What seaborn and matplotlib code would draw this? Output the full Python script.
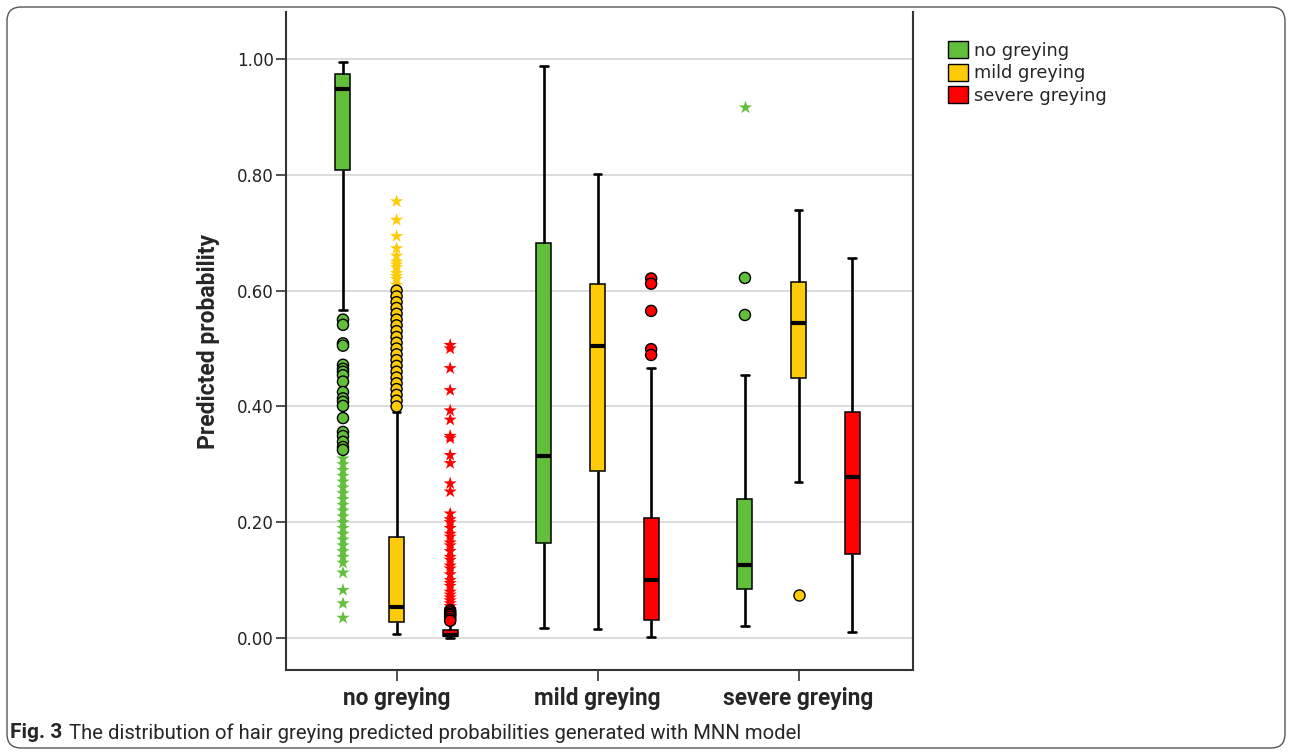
import numpy as np
import pandas as pd
import seaborn as sns
import matplotlib.pyplot as plt
from matplotlib.patches import Patch, FancyBboxPatch

groups = ["no greying", "mild greying", "severe greying"]
levels = ["no greying", "mild greying", "severe greying"]
colors = ["#62bf3b", "#fdcb08", "#ff0000"]

# five numbers per box: low whisker, Q1, median, Q3, high whisker (one per x group)
box_no = [[0.566, 0.809, 0.948, 0.974, 0.994],
          [0.018, 0.164, 0.314, 0.682, 0.987],
          [0.021, 0.085, 0.126, 0.241, 0.454]]
box_mild = [[0.008, 0.028, 0.053, 0.174, 0.391],
            [0.016, 0.288, 0.504, 0.611, 0.801],
            [0.270, 0.450, 0.544, 0.615, 0.740]]
box_severe = [[0.001, 0.003, 0.006, 0.014, 0.026],
              [0.002, 0.031, 0.100, 0.208, 0.467],
              [0.010, 0.146, 0.278, 0.390, 0.656]]

# outliers (circles) and extreme values (stars)
no_no_circles = [0.550, 0.541, 0.509, 0.505, 0.472, 0.465, 0.460, 0.454, 0.443, 0.425,
                 0.414, 0.408, 0.401, 0.380, 0.356, 0.349, 0.339, 0.330, 0.325]
no_no_stars = [0.31, 0.30, 0.29, 0.28, 0.27, 0.26, 0.25, 0.24, 0.23, 0.22, 0.21, 0.20,
               0.19, 0.18, 0.17, 0.16, 0.15, 0.14, 0.13, 0.113, 0.083, 0.060, 0.035]
no_mild_circles = [0.600, 0.590, 0.580, 0.570, 0.560, 0.550, 0.540, 0.530, 0.520, 0.510,
                   0.500, 0.490, 0.480, 0.470, 0.460, 0.450, 0.440, 0.430, 0.420, 0.410, 0.400]
no_mild_stars = [0.754, 0.722, 0.694, 0.673, 0.660, 0.650, 0.645, 0.640, 0.630, 0.625, 0.620, 0.610]
no_severe_circles = [0.048, 0.045, 0.042, 0.040, 0.037, 0.033, 0.030]
no_severe_stars = [0.506, 0.500, 0.466, 0.428, 0.393, 0.377, 0.349, 0.345, 0.316, 0.302,
                   0.267, 0.253, 0.215, 0.205, 0.200, 0.190, 0.180, 0.175, 0.165, 0.160,
                   0.150, 0.140, 0.135, 0.125, 0.120, 0.110, 0.100, 0.095, 0.090, 0.080,
                   0.075, 0.070, 0.065, 0.060, 0.055, 0.050]
mild_severe_circles = [0.621, 0.612, 0.565, 0.499, 0.489]
severe_no_circles = [0.622, 0.558]
severe_no_stars = [0.917]
severe_mild_circles = [0.075]

# build tables
box_rows = []
for gi, g in enumerate(groups):
    for lev, boxes in zip(levels, [box_no, box_mild, box_severe]):
        for v in boxes[gi]:
            box_rows.append((g, lev, v))
box_df = pd.DataFrame(box_rows, columns=["group", "level", "value"])


def to_rows(group, level, vals):
    return [(group, level, v) for v in vals]


circ_df = pd.DataFrame(
    to_rows("no greying", "no greying", no_no_circles)
    + to_rows("no greying", "mild greying", no_mild_circles)
    + to_rows("no greying", "severe greying", no_severe_circles)
    + to_rows("mild greying", "severe greying", mild_severe_circles)
    + to_rows("severe greying", "no greying", severe_no_circles)
    + to_rows("severe greying", "mild greying", severe_mild_circles),
    columns=["group", "level", "value"])
star_df = pd.DataFrame(
    to_rows("no greying", "no greying", no_no_stars)
    + to_rows("no greying", "mild greying", no_mild_stars)
    + to_rows("no greying", "severe greying", no_severe_stars)
    + to_rows("severe greying", "no greying", severe_no_stars),
    columns=["group", "level", "value"])

sns.set_style("white")
plt.rcParams["font.family"] = ["DejaVu Sans"]
narrow = ["Roboto", "DejaVu Sans"]

fig = plt.figure(figsize=(12.92, 7.53), dpi=100)
ax = fig.add_axes([0.2214, 0.1102, 0.4853, 0.8738])

sns.boxplot(data=box_df, x="group", y="value", hue="level", order=groups,
            hue_order=levels, palette=colors, saturation=1, width=0.8, gap=0.72,
            whis=(0, 100), showfliers=False, linecolor="black", linewidth=1.1,
            medianprops=dict(linewidth=3, color="black"),
            whiskerprops=dict(linewidth=1.9), capprops=dict(linewidth=1.9),
            legend=False, ax=ax)

sns.stripplot(data=star_df, x="group", y="value", hue="level", order=groups,
              hue_order=levels, palette=colors, dodge=True, jitter=False,
              marker="*", size=10, linewidth=0, legend=False, ax=ax)
sns.stripplot(data=circ_df, x="group", y="value", hue="level", order=groups,
              hue_order=levels, palette=colors, dodge=True, jitter=False,
              marker="o", size=8, edgecolor="black", linewidth=1, legend=False, ax=ax)

ax.set_xlim(-0.55, 2.57)
ax.set_ylim(-0.055, 1.081)
ax.set_yticks(np.arange(0, 1.01, 0.2))
ax.set_yticklabels([f"{t:.2f}" for t in np.arange(0, 1.01, 0.2)], fontsize=12, color="#222222")
ax.set_xticks(range(3))
ax.set_xticklabels(groups, fontsize=16.3, fontweight="bold", family=narrow)
ax.tick_params(axis="x", length=8, width=1.2, color="#333333", pad=4, bottom=True)
ax.tick_params(axis="y", length=7, width=1.2, color="#333333", pad=2, left=True)
ax.yaxis.grid(True, color="#d9d9d9", linewidth=1.3)
ax.set_axisbelow(True)
ax.set_xlabel("")
ax.set_ylabel("Predicted probability", fontsize=16.5, fontweight="bold", family=narrow)
ax.yaxis.set_label_coords(-0.106, 0.5)
for side in ["left", "bottom", "right"]:
    ax.spines[side].set_color("#333333")
    ax.spines[side].set_linewidth(1.5)
ax.spines["top"].set_visible(False)

handles = [Patch(facecolor=c, edgecolor="black", linewidth=1) for c in colors]
fig.legend(handles, levels, loc="upper left", bbox_to_anchor=(941 / 1292, 1 - 34 / 753),
           frameon=False, fontsize=12.8, handlelength=1.1, handleheight=1.1,
           handletextpad=0.35, labelspacing=0.22, borderaxespad=0)

cap_y = 1 - 733 / 753
fig_lbl = fig.text(10 / 1292, cap_y, "Fig. 3", fontsize=15, fontweight="bold",
                   family=narrow, va="center")
renderer = fig.canvas.get_renderer()
x_after = fig_lbl.get_window_extent(renderer).x1 + 7
fig.text(x_after / 1292, cap_y,
         "The distribution of hair greying predicted probabilities generated with MNN model",
         fontsize=14.6, family=narrow, va="center")

border = FancyBboxPatch((7, 5), 1278, 741, boxstyle="round,pad=0,rounding_size=14",
                        transform=None, fill=False, edgecolor="#555555", linewidth=1)
fig.add_artist(border)

fig.savefig("out.png", dpi=100)
